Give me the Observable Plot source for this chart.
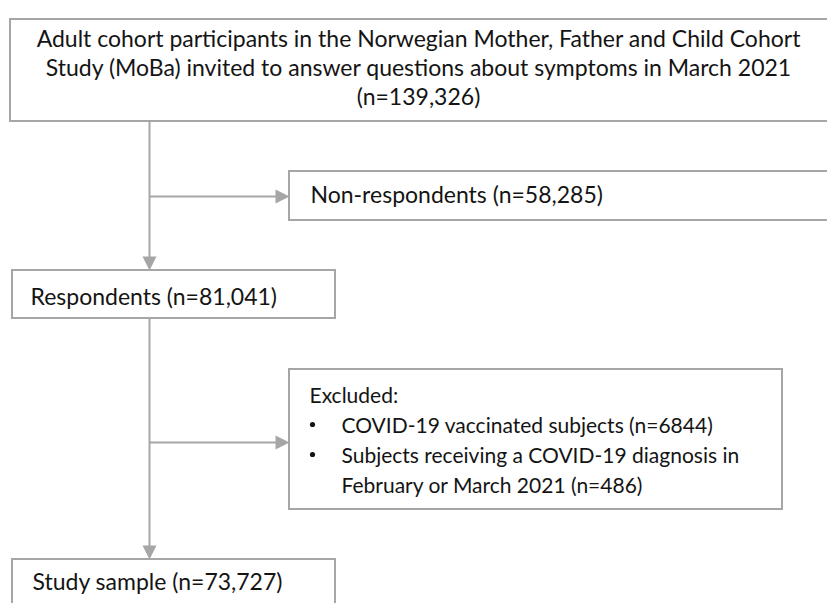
<!DOCTYPE html>
<html>
<head>
<meta charset="utf-8">
<script src="https://cdn.jsdelivr.net/npm/d3@7"></script>
<script src="https://cdn.jsdelivr.net/npm/@observablehq/plot@0.6"></script>
<style>
  html, body { margin: 0; padding: 0; background: #fff; overflow: hidden; }
  #chart svg { overflow: hidden; display: block; }
</style>
</head>
<body>
<div id="chart"></div>
<script>
// ---- data: flow stages and their counts ----
const stageNames = ["invited", "nonRespondents", "respondents", "excluded", "sample"];
const counts = { invited: 139326, nonRespondents: 58285, respondents: 81041, vaccinated: 6844, diagnosed: 486, sample: 73727 };
const invitedLines = [
  "Adult cohort participants in the Norwegian Mother, Father and Child Cohort",
  "Study (MoBa) invited to answer questions about symptoms in March 2021",
  "(n=139,326)"
];
const nonRespondentLabel = "Non-respondents (n=58,285)";
const respondentLabel = "Respondents (n=81,041)";
const excludedHeader = "Excluded:";
const excludedItems = [
  ["COVID-19 vaccinated subjects (n=6844)"],
  ["Subjects receiving a COVID-19 diagnosis in", "February or March 2021 (n=486)"]
];
const sampleLabel = "Study sample (n=73,727)";

// ---- layout (diagram coordinates, pixels) ----
const W = 827, H = 603;
const boxes = [
  {id: "invited", x1: 10, x2: 840, y1: 19, y2: 121},
  {id: "nonRespondents", x1: 289, x2: 840, y1: 171, y2: 220},
  {id: "respondents", x1: 12, x2: 335, y1: 270, y2: 318},
  {id: "excluded", x1: 289, x2: 782, y1: 369, y2: 509},
  {id: "sample", x1: 12, x2: 335, y1: 559, y2: 620}
];
const trunkX = 149;
const connectors = [
  {x1: trunkX, y1: 121, x2: trunkX, y2: 257},
  {x1: trunkX, y1: 196, x2: 276, y2: 196},
  {x1: trunkX, y1: 318, x2: trunkX, y2: 546},
  {x1: trunkX, y1: 442, x2: 276, y2: 442}
];
const heads = [
  {x: trunkX, y: 270, rotate: 180},
  {x: 289, y: 196, rotate: 90},
  {x: trunkX, y: 559, rotate: 180},
  {x: 289, y: 442, rotate: 90}
];

const centered = invitedLines.map((t, i) => ({x: 418, y: 46 + i * 29, text: t}));
const texts = [
  {x: 310, y: 202, text: nonRespondentLabel},
  {x: 30, y: 304, text: respondentLabel},
  {x: 32, y: 589, text: sampleLabel}
];
const smallTexts = [{x: 309, y: 402, text: excludedHeader}];
let ly = 432;
const bullets = [];
excludedItems.forEach(item => {
  bullets.push({x: 312, y: ly - 8});
  item.forEach(line => { smallTexts.push({x: 341, y: ly, text: line}); ly += 30; });
});

const arrowHead = {
  draw(ctx, size) {
    const L = 14, w = 14;
    ctx.moveTo(0, 0);
    ctx.lineTo(-w / 2, L);
    ctx.lineTo(w / 2, L);
    ctx.closePath();
  }
};

const stroke = "#a6a6a6";
const ink = "#141414";
const font = "Lato, 'Open Sans', sans-serif";
const textOpts = {x: "x", y: "y", text: "text", lineAnchor: "bottom", fontFamily: font, fill: ink};

const chart = Plot.plot({
  width: W, height: H,
  margin: 0,
  x: {domain: [0, W], range: [0, W], axis: null},
  y: {domain: [0, H], range: [0, H], axis: null},
  marks: [
    Plot.rect(boxes, {x1: "x1", x2: "x2", y1: "y1", y2: "y2", fill: "white", stroke, strokeWidth: 2}),
    Plot.link(connectors, {x1: "x1", y1: "y1", x2: "x2", y2: "y2", stroke, strokeWidth: 2}),
    Plot.dot(heads, {x: "x", y: "y", rotate: "rotate", symbol: arrowHead, r: 7, fill: stroke, stroke: "none"}),
    Plot.text(centered, {...textOpts, fontSize: 23, textAnchor: "middle"}),
    Plot.text(texts, {...textOpts, fontSize: 23, textAnchor: "start"}),
    Plot.text(smallTexts, {...textOpts, fontSize: 21, textAnchor: "start"}),
    Plot.dot(bullets, {x: "x", y: "y", r: 2.6, fill: ink, stroke: "none"})
  ]
});
document.getElementById("chart").appendChild(chart);
</script>
</body>
</html>
